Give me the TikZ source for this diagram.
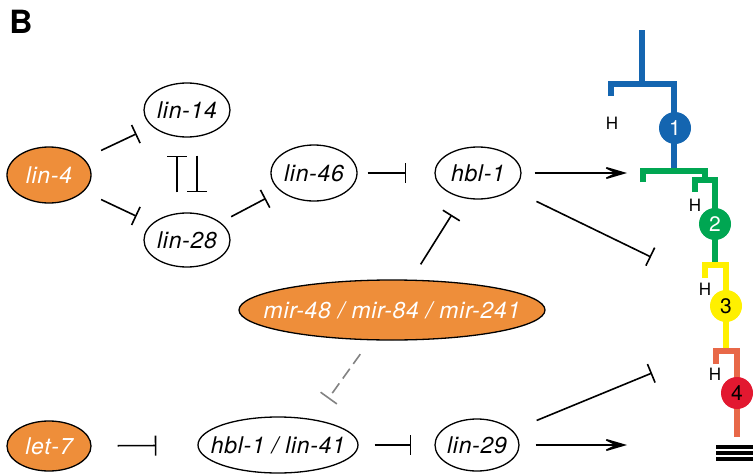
\documentclass[tikz,border=0pt]{standalone}
\usepackage{fontspec}
\setmainfont{TeX Gyre Heros}[LetterSpace=3]
\usetikzlibrary{shapes.geometric,arrows.meta}

\definecolor{nodeorange}{RGB}{238,142,58}
\definecolor{cellblue}{RGB}{20,101,176}
\definecolor{cellgreen}{RGB}{0,166,82}
\definecolor{cellyellow}{RGB}{255,240,0}
\definecolor{cellorange}{RGB}{232,104,72}
\definecolor{cellred}{RGB}{226,24,48}
\definecolor{dashgray}{RGB}{130,130,130}

\begin{document}
\begin{tikzpicture}[x=1pt,y=-1pt,
  gene/.style={ellipse,draw=black,line width=1.3pt,inner xsep=-40pt,inner ysep=0pt,
    font=\fontsize{23}{27}\selectfont\itshape,text height=16.5pt,text depth=0pt},
  mirna/.style={gene,fill=nodeorange,text=white},
  inh/.style={line width=1.6pt,-{Bar[width=20pt]}},
  act/.style={line width=1.6pt,-{Stealth[length=29pt,width=17pt,inset=17pt]}},
  lineage/.style={line width=5.5pt,line join=miter},
  cellnum/.style={circle,inner sep=0pt,minimum size=32pt,
    font=\fontsize{21}{24}\selectfont,text height=15pt,text depth=0pt},
  hlab/.style={inner sep=0pt,font=\fontsize{17}{20}\selectfont,text height=12.2pt,text depth=0pt}
]
\useasboundingbox (0,0) rectangle (753,474);

% panel letter
\node[inner sep=0pt,font=\fontsize{32}{36}\selectfont\bfseries,text height=23pt,text depth=0pt] (panel) at (21,22) {B};

% genes and microRNAs
\node[mirna,minimum width=84pt,minimum height=56pt] (lin4)  at (49,175) {lin-4};
\node[gene,minimum width=86pt,minimum height=54pt]  (lin14) at (187,110) {lin-14};
\node[gene,minimum width=86pt,minimum height=54pt]  (lin28) at (187,240) {lin-28};
\node[gene,minimum width=86pt,minimum height=56pt]  (lin46) at (314,173) {lin-46};
\node[gene,minimum width=86pt,minimum height=52pt]  (hbl1)  at (478,173) {hbl-1};
\node[mirna,minimum width=306pt,minimum height=60pt] (mir) at (392,310) {mir-48 / mir-84 / mir-241};
\node[mirna,minimum width=84pt,minimum height=50pt] (let7)  at (49,446) {let-7};
\node[gene,minimum width=160pt,minimum height=56pt] (hl41)  at (278,445) {hbl-1 / lin-41};
\node[gene,minimum width=84pt,minimum height=52pt]  (lin29) at (477,445) {lin-29};

% free ends of the connectors that point at the lineage
\coordinate (tA) at (627,173);
\coordinate (tB) at (651,257);
\coordinate (tC) at (652,373);
\coordinate (tD) at (627,445);

% regulatory connectors
\draw[inh,shorten <=19pt,shorten >=17pt] (lin4) -- (lin14);
\draw[inh,shorten <=19pt,shorten >=17pt] (lin4) -- (lin28);
\draw[inh,shorten <=20pt,shorten >=18pt] ([xshift=-10pt]lin28.north) -- ([xshift=-10pt]lin14.south);
\draw[inh,shorten <=18pt,shorten >=20pt] ([xshift=10pt]lin14.south) -- ([xshift=10pt]lin28.north);
\draw[inh,shorten <=12pt,shorten >=16pt] (lin28) -- (lin46);
\draw[inh,shorten <=10pt,shorten >=28pt] (lin46) -- (hbl1);
\draw[act,shorten <=13pt] (hbl1) -- (tA);
\draw[inh,shorten <=27pt] (hbl1) -- (tB);
\draw[inh,shorten <=18pt,shorten >=20pt] (mir) -- (hbl1);
\draw[inh,dashgray,dash pattern=on 12pt off 6pt,shorten <=17pt,shorten >=57pt] (mir) -- ([xshift=17pt]hl41.center);
\draw[inh,shorten <=26pt,shorten >=41pt] (let7) -- (hl41);
\draw[inh,shorten <=16pt,shorten >=23pt] (hl41) -- (lin29);
\draw[act,shorten <=16pt] (lin29) -- (tD);
\draw[inh,shorten <=26pt] (lin29) -- (tC);

% seam cell lineage
\draw[lineage,cellblue] (642,30) -- (642,84);
\draw[lineage,cellblue] (611,96) -- (611,84) -- (674,84) -- (674,171);
\draw[lineage,cellgreen] (643,182) -- (643,171) -- (705,171) -- (705,180);
\draw[lineage,cellgreen] (695,192) -- (695,180) -- (715,180) -- (715,265);
\draw[lineage,cellyellow] (705,278) -- (705,265) -- (726,265) -- (726,351);
\draw[lineage,cellorange] (716,364) -- (716,351) -- (737,351) -- (737,437);

\node[cellnum,fill=cellblue,text=white]  (c1) at (675,128) {1};
\node[cellnum,fill=cellgreen,text=white] (c2) at (715,224) {2};
\node[cellnum,fill=cellyellow]           (c3) at (726,306) {3};
\node[cellnum,fill=cellred]              (c4) at (737,393) {4};

\node[hlab] (h1) at (612,123) {H};
\node[hlab] (h2) at (695,205) {H};
\node[hlab] (h3) at (705,289) {H};
\node[hlab] (h4) at (715,374) {H};

% terminal marks
\draw[line width=3.4pt] (716,447) -- (753,447);
\draw[line width=3.4pt] (716,453) -- (753,453);
\draw[line width=3.4pt] (716,459) -- (753,459);
\end{tikzpicture}
\end{document}
